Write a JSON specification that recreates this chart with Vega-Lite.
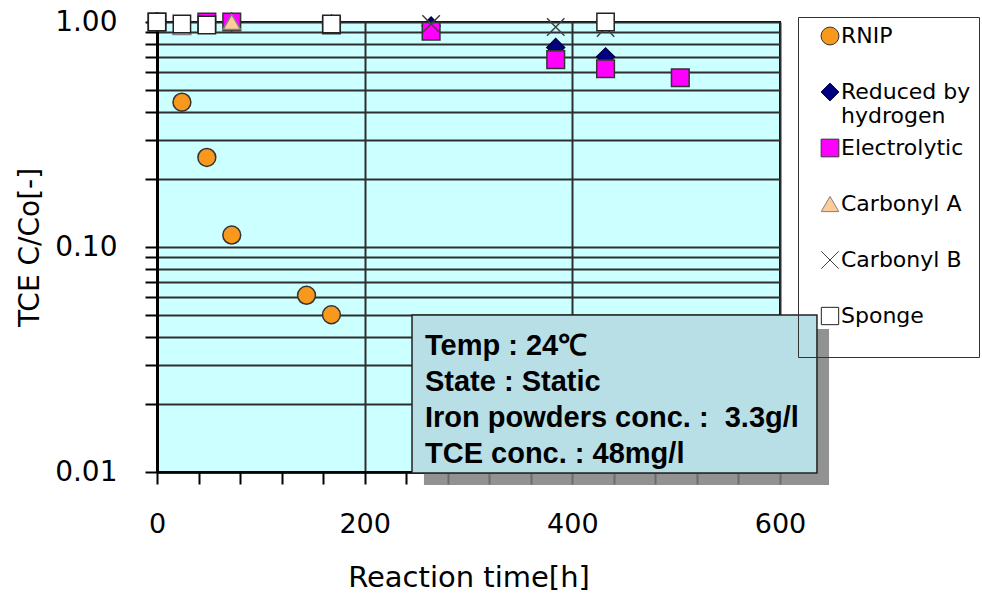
{
  "$schema": "https://vega.github.io/schema/vega-lite/v6.json",
  "width": 623,
  "height": 450,
  "autosize": {"type": "none"},
  "padding": {"left": 157, "top": 22, "right": 202, "bottom": 122},
  "background": "white",
  "config": {
    "font": "DejaVu Sans",
    "view": {"fill": "#CCFFFF", "stroke": "#000000", "strokeWidth": 2}
  },
  "layer": [
    {
      "data": {
        "values": [
          {"series": "RNIP", "time": 0, "ratio": 1.0},
          {"series": "RNIP", "time": 24, "ratio": 0.44},
          {"series": "RNIP", "time": 48, "ratio": 0.25},
          {"series": "RNIP", "time": 72, "ratio": 0.113},
          {"series": "RNIP", "time": 144, "ratio": 0.061},
          {"series": "RNIP", "time": 168, "ratio": 0.05},
          {"series": "Reduced by hydrogen", "time": 0, "ratio": 1.0},
          {"series": "Reduced by hydrogen", "time": 72, "ratio": 1.0},
          {"series": "Reduced by hydrogen", "time": 168, "ratio": 0.98},
          {"series": "Reduced by hydrogen", "time": 264, "ratio": 0.96},
          {"series": "Reduced by hydrogen", "time": 384, "ratio": 0.77},
          {"series": "Reduced by hydrogen", "time": 432, "ratio": 0.7},
          {"series": "Electrolytic", "time": 0, "ratio": 1.0},
          {"series": "Electrolytic", "time": 48, "ratio": 1.0},
          {"series": "Electrolytic", "time": 72, "ratio": 1.0},
          {"series": "Electrolytic", "time": 168, "ratio": 0.97},
          {"series": "Electrolytic", "time": 264, "ratio": 0.91},
          {"series": "Electrolytic", "time": 384, "ratio": 0.68},
          {"series": "Electrolytic", "time": 432, "ratio": 0.62},
          {"series": "Electrolytic", "time": 504, "ratio": 0.565},
          {"series": "Carbonyl A", "time": 0, "ratio": 1.0},
          {"series": "Carbonyl A", "time": 24, "ratio": 0.95},
          {"series": "Carbonyl A", "time": 72, "ratio": 1.0},
          {"series": "Carbonyl B", "time": 264, "ratio": 0.98},
          {"series": "Carbonyl B", "time": 384, "ratio": 0.95},
          {"series": "Carbonyl B", "time": 432, "ratio": 0.94},
          {"series": "Sponge", "time": 0, "ratio": 1.0},
          {"series": "Sponge", "time": 24, "ratio": 0.98},
          {"series": "Sponge", "time": 48, "ratio": 0.97},
          {"series": "Sponge", "time": 168, "ratio": 0.98},
          {"series": "Sponge", "time": 432, "ratio": 1.0}
        ]
      },
      "mark": {"type": "point", "filled": true, "opacity": 1, "strokeWidth": 1.5},
      "encoding": {
        "x": {
          "field": "time",
          "type": "quantitative",
          "scale": {"domain": [0, 600], "nice": false, "zero": false},
          "axis": {
            "title": "Reaction time[h]",
            "values": [0, 40, 80, 120, 160, 200, 240, 280, 320, 360, 400, 440, 480, 520, 560, 600],
            "format": "d",
            "labelExpr": "datum.value % 200 == 0 ? datum.label : ''",
            "grid": true,
            "gridColor": "#2E2E2E",
            "gridWidth": 2,
            "gridOpacity": {"condition": {"test": "datum.value % 200 == 0", "value": 1}, "value": 0},
            "domainColor": "#000000",
            "domainWidth": 2.5,
            "tickColor": "#000000",
            "tickWidth": 2,
            "tickSize": 12,
            "labelFont": "DejaVu Sans",
            "labelFontSize": 27,
            "labelColor": "#000000",
            "labelPadding": 27,
            "labelFlush": false,
            "labelOverlap": false,
            "titleFont": "DejaVu Sans",
            "titleFontSize": 29,
            "titleFontWeight": "normal",
            "titleColor": "#000000",
            "titlePadding": 26
          }
        },
        "y": {
          "field": "ratio",
          "type": "quantitative",
          "scale": {"type": "log", "domain": [0.01, 1], "nice": false},
          "axis": {
            "title": "TCE C/Co[-]",
            "values": [0.01, 0.02, 0.03, 0.04, 0.05, 0.06, 0.07, 0.08, 0.09, 0.1, 0.2, 0.3, 0.4, 0.5, 0.6, 0.7, 0.8, 0.9, 1],
            "labelExpr": "datum.value == 1 || datum.value == 0.1 || datum.value == 0.01 ? format(datum.value, '.2f') : ''",
            "grid": true,
            "gridColor": "#2E2E2E",
            "gridWidth": 2,
            "domainColor": "#000000",
            "domainWidth": 3,
            "tickColor": "#000000",
            "tickWidth": 2,
            "tickSize": 12,
            "labelFont": "DejaVu Sans",
            "labelFontSize": 28,
            "labelColor": "#000000",
            "labelPadding": 28,
            "labelFlush": false,
            "labelOverlap": false,
            "labelBound": false,
            "titleFont": "DejaVu Sans",
            "titleFontSize": 28,
            "titleFontWeight": "normal",
            "titleColor": "#000000",
            "titlePadding": 10
          }
        },
        "color": {
          "field": "series",
          "type": "nominal",
          "scale": {
            "domain": ["RNIP", "Reduced by hydrogen", "Electrolytic", "Carbonyl A", "Carbonyl B", "Sponge"],
            "range": ["#F8981D", "#000080", "#FF00FF", "#FFCC99", "#FFFFFF", "#FFFFFF"]
          },
          "legend": {
            "title": " ",
            "titleOrient": "bottom",
            "titleFontSize": 14,
            "titlePadding": 8,
            "orient": "none",
            "legendX": 641,
            "legendY": -5,
            "padding": 8,
            "strokeColor": "#333333",
            "labelFont": "DejaVu Sans",
            "labelFontSize": 22,
            "labelColor": "#000000",
            "labelLimit": 400,
            "symbolSize": 120,
            "symbolStrokeWidth": 1,
            "symbolOffset": 13,
            "labelOffset": 0,
            "gridAlign": "all",
            "rowPadding": 10,
            "labelExpr": "datum.label == 'Reduced by hydrogen' ? ['Reduced by', 'hydrogen'] : datum.label"
          }
        },
        "shape": {
          "field": "series",
          "type": "nominal",
          "scale": {
            "domain": ["RNIP", "Reduced by hydrogen", "Electrolytic", "Carbonyl A", "Carbonyl B", "Sponge"],
            "range": ["circle", "diamond", "square", "triangle-up", "M-1,-1L1,1M-1,1L1,-1", "square"]
          }
        },
        "stroke": {
          "field": "series",
          "type": "nominal",
          "scale": {
            "domain": ["RNIP", "Reduced by hydrogen", "Electrolytic", "Carbonyl A", "Carbonyl B", "Sponge"],
            "range": ["#333333", "#000040", "#333333", "#808080", "#404040", "#222222"]
          }
        },
        "size": {
          "field": "series",
          "type": "nominal",
          "scale": {
            "domain": ["RNIP", "Reduced by hydrogen", "Electrolytic", "Carbonyl A", "Carbonyl B", "Sponge"],
            "range": [320, 300, 400, 420, 400, 420]
          },
          "legend": null
        }
      }
    },
    {
      "data": {"values": [{"x1": 257.1, "x2": 647.2, "y1": 0.0432, "y2": 0.00876}]},
      "mark": {"type": "rect", "fill": "#7F7F7F", "opacity": 0.85},
      "encoding": {
        "x": {"field": "x1", "type": "quantitative"},
        "x2": {"field": "x2"},
        "y": {"field": "y1", "type": "quantitative"},
        "y2": {"field": "y2"}
      }
    },
    {
      "data": {"values": [{"x1": 245.6, "x2": 635.6, "y1": 0.0499, "y2": 0.0099}]},
      "mark": {"type": "rect", "fill": "#B8DEE6", "stroke": "#222222", "strokeWidth": 1.5},
      "encoding": {
        "x": {"field": "x1", "type": "quantitative"},
        "x2": {"field": "x2"},
        "y": {"field": "y1", "type": "quantitative"},
        "y2": {"field": "y2"}
      }
    },
    {
      "data": {"values": [{"x": 258.1, "y": 0.0418, "label": "Temp : 24℃\nState : Static\nIron powders conc. :\u00a0 3.3g/l\nTCE conc. : 48mg/l"}]},
      "mark": {"type": "text", "align": "left", "baseline": "top", "lineBreak": "\n", "lineHeight": 36, "font": "Liberation Sans", "fontWeight": "bold", "fontSize": 29, "fill": "#000000"},
      "encoding": {
        "x": {"field": "x", "type": "quantitative"},
        "y": {"field": "y", "type": "quantitative"},
        "text": {"field": "label"}
      }
    }
  ]
}
